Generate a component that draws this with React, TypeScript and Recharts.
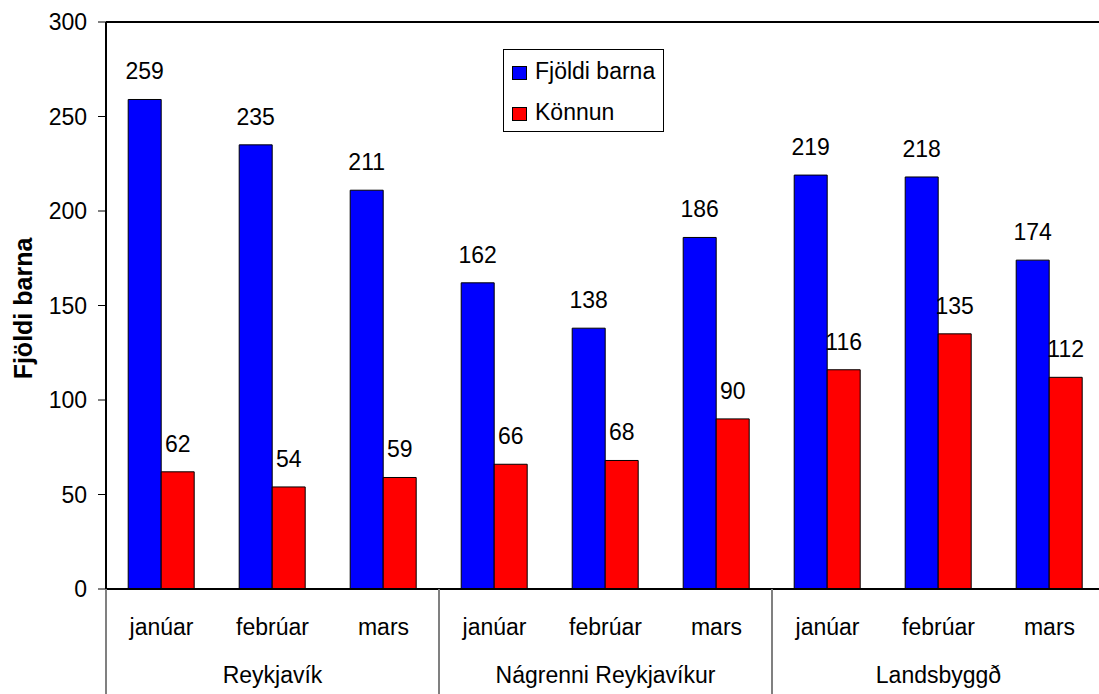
import React from 'react';
import { BarChart, Bar, XAxis, YAxis, LabelList, ReferenceLine, Legend } from 'recharts';

const months = ['janúar', 'febrúar', 'mars', 'janúar', 'febrúar', 'mars', 'janúar', 'febrúar', 'mars'];
const regions = ['Reykjavík', 'Nágrenni Reykjavíkur', 'Landsbyggð'];
const fjoldiBarna = [259, 235, 211, 162, 138, 186, 219, 218, 174];
const konnun = [62, 54, 59, 66, 68, 90, 116, 135, 112];
const yTicks = [0, 50, 100, 150, 200, 250, 300];
const seriesNames = ['Fjöldi barna', 'Könnun'];
const yLabel = 'Fjöldi barna';

const data = months.map((m, i) => ({
  idx: i,
  month: m,
  region: regions[Math.floor(i / 3)],
  fjoldi: fjoldiBarna[i],
  konnun: konnun[i],
}));

const FONT = '"Liberation Sans", Arial, sans-serif';
const BLUE = '#0000FF';
const RED = '#FF0000';

const XTick = (props: any) => {
  const { x, y, payload } = props;
  const i: number = payload?.index ?? props.index ?? 0;
  const half: number = payload?.offset ?? 0;
  const month = data[i]?.month ?? '';
  return (
    <g>
      <text x={x} y={y + 46} textAnchor="middle" fontSize={23} fontFamily={FONT} fill="#000">
        {month}
      </text>
      {i % 3 === 1 && (
        <text x={x} y={y + 94} textAnchor="middle" fontSize={23} fontFamily={FONT} fill="#000">
          {data[i].region}
        </text>
      )}
      {i % 3 === 0 && (
        <line x1={x - half} x2={x - half} y1={y} y2={y + 110} stroke="#808080" strokeWidth={2} />
      )}
      {i === data.length - 1 && (
        <line x1={x + half} x2={x + half} y1={y} y2={y + 110} stroke="#808080" strokeWidth={2} />
      )}
    </g>
  );
};

const YLabel = (props: any) => {
  const vb = props.viewBox || { x: 46, y: 22, width: 60, height: 567 };
  const cx = vb.x - 23;
  const cy = vb.y + vb.height / 2 + 3;
  return (
    <text
      x={cx}
      y={cy}
      transform={`rotate(-90, ${cx}, ${cy})`}
      textAnchor="middle"
      dominantBaseline="central"
      fontSize={25}
      fontWeight="bold"
      fontFamily={FONT}
      fill="#000"
    >
      {yLabel}
    </text>
  );
};

const renderLegend = () => (
  <svg width={161} height={83} style={{ display: 'block' }}>
    <rect x={0.5} y={0.5} width={160} height={82} fill="#fff" stroke="#000" strokeWidth={1} />
    <rect x={9.5} y={17.5} width={14} height={13} fill={BLUE} stroke="#000" strokeWidth={1} />
    <text x={32} y={30} fontSize={23} fontFamily={FONT} fill="#000">{seriesNames[0]}</text>
    <rect x={9.5} y={58.5} width={14} height={13} fill={RED} stroke="#000" strokeWidth={1} />
    <text x={32} y={71} fontSize={23} fontFamily={FONT} fill="#000">{seriesNames[1]}</text>
  </svg>
);

export default function App() {
  return (
    <div
      style={{
        position: 'fixed',
        left: 0,
        top: 0,
        width: 1099,
        height: 694,
        overflow: 'hidden',
        background: '#fff',
      }}
    >
      <BarChart
        width={1110}
        height={694}
        data={data}
        margin={{ top: 22, right: 5, bottom: 5, left: 46 }}
        barCategoryGap="20%"
        barGap={0}
      >
        <ReferenceLine y={300} stroke="#000" strokeWidth={2} ifOverflow="visible" />
        <XAxis
          dataKey="idx"
          type="category"
          interval={0}
          height={100}
          tickLine={false}
          tickSize={0}
          tickMargin={0}
          axisLine={{ stroke: '#000', strokeWidth: 2 }}
          tick={<XTick />}
        />
        <YAxis
          width={60}
          domain={[0, 300]}
          ticks={yTicks}
          interval={0}
          tickSize={8}
          tickMargin={11}
          tickLine={{ stroke: '#000', strokeWidth: 1 }}
          axisLine={{ stroke: '#000', strokeWidth: 2 }}
          tick={{ fontSize: 23, fontFamily: FONT, fill: '#000' }}
          label={<YLabel />}
        />
        <Legend
          layout="vertical"
          align="center"
          verticalAlign="middle"
          wrapperStyle={{ left: 503, top: 49, width: 161, height: 83 }}
          content={renderLegend}
        />
        <Bar dataKey="fjoldi" name={seriesNames[0]} fill={BLUE} stroke="#000" strokeWidth={1} isAnimationActive={false}>
          <LabelList dataKey="fjoldi" position="top" offset={20} fontSize={23} fontFamily={FONT} fill="#000" />
        </Bar>
        <Bar dataKey="konnun" name={seriesNames[1]} fill={RED} stroke="#000" strokeWidth={1} isAnimationActive={false}>
          <LabelList dataKey="konnun" position="top" offset={20} fontSize={23} fontFamily={FONT} fill="#000" />
        </Bar>
      </BarChart>
    </div>
  );
}
